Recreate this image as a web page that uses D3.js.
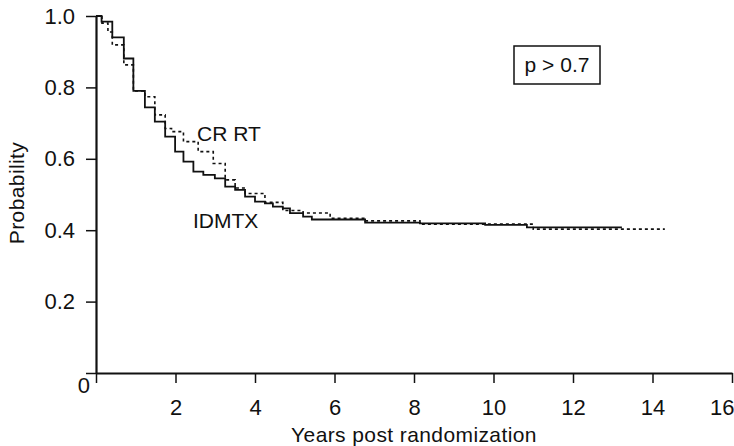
<!DOCTYPE html>
<html>
<head>
    <title>Survival</title>
    <script src="https://cdnjs.cloudflare.com/ajax/libs/d3/7.8.5/d3.min.js"></script>
    <style>
        body {
            margin: 0;
            background: white;
            font-family: "Liberation Sans", Arial, sans-serif;
        }
        .tick-label {
            font-size: 22px;
            fill: #111;
        }
        .axis-title {
            font-size: 21px;
            letter-spacing: 0.4px;
            fill: #111;
        }
        .curve-label {
            font-size: 21px;
            fill: #111;
        }
    </style>
</head>
<body>
    <div id="chart"></div>
    <script>
        // IDMTX arm (solid step curve): time in years, survival probability
        const idmtxTimes = [0, 0.14, 0.41, 0.70, 0.94, 1.23, 1.48, 1.74, 1.99, 2.20, 2.45, 2.70, 2.99, 3.25, 3.50, 3.75,
            4.00, 4.25, 4.45, 4.70, 4.88, 5.21, 5.43, 6.77, 8.15, 9.79, 10.84, 13.23];
        const idmtxProb = [1.0, 0.984, 0.940, 0.881, 0.790, 0.744, 0.704, 0.662, 0.620, 0.592, 0.564, 0.555, 0.545, 0.522, 0.513, 0.494,
            0.480, 0.475, 0.466, 0.461, 0.448, 0.438, 0.430, 0.421, 0.419, 0.415, 0.408, 0.408];

        // CR RT arm (dashed step curve)
        const crrtTimes = [0, 0.15, 0.30, 0.41, 0.70, 0.94, 1.23, 1.48, 1.74, 1.90, 2.20, 2.57, 2.95, 3.25, 3.50, 3.75,
            4.25, 4.70, 5.21, 5.89, 6.77, 8.15, 11.0, 14.31];
        const crrtProb = [1.0, 0.98, 0.955, 0.919, 0.863, 0.79, 0.774, 0.723, 0.685, 0.676, 0.648, 0.620, 0.587, 0.541, 0.518, 0.503,
            0.478, 0.455, 0.448, 0.433, 0.426, 0.417, 0.403, 0.403];

        const xTicks = [0, 2, 4, 6, 8, 10, 12, 14, 16];
        const yTicks = [0, 0.2, 0.4, 0.6, 0.8, 1.0];

        const W = 734, H = 446;

        const svg = d3.select("#chart")
            .append("svg")
            .attr("width", W)
            .attr("height", H);

        const x = d3.scaleLinear().domain([0, 16]).range([96, 732]);
        const y = d3.scaleLinear().domain([0, 1]).range([373, 16]);

        // x axis
        const xAxis = svg.append("g")
            .attr("transform", `translate(0,${y(0)})`)
            .call(d3.axisBottom(x).tickValues(xTicks).tickSize(10).tickSizeOuter(0)
                .tickFormat(d => d === 0 ? "" : d));
        xAxis.select(".domain").attr("stroke", "#111").attr("stroke-width", 2.2);
        xAxis.selectAll(".tick line").attr("stroke", "#111").attr("stroke-width", 1.5);
        xAxis.selectAll(".tick text")
            .attr("class", "tick-label")
            .attr("y", 26)
            .attr("dy", "0.71em")
            .attr("font-size", null)
            .attr("font-family", null);
        // keep the last label inside the page
        xAxis.selectAll(".tick text")
            .filter(d => d === 16)
            .attr("text-anchor", "end")
            .attr("dx", 2);

        // y axis
        const yAxis = svg.append("g")
            .attr("transform", `translate(${x(0)},0)`)
            .call(d3.axisLeft(y).tickValues(yTicks).tickSize(10).tickSizeOuter(0)
                .tickFormat(d => d === 0 ? "" : d3.format(".1f")(d)));
        yAxis.select(".domain").attr("stroke", "#111").attr("stroke-width", 2.2);
        yAxis.selectAll(".tick line").attr("stroke", "#111").attr("stroke-width", 1.5);
        yAxis.selectAll(".tick text")
            .attr("class", "tick-label")
            .attr("x", -21)
            .attr("font-size", null)
            .attr("font-family", null);

        // the lone "0" at the corner
        svg.append("text")
            .attr("class", "tick-label")
            .attr("x", x(0) - 6)
            .attr("y", y(0) + 20)
            .attr("text-anchor", "end")
            .text("0");

        const line = d3.line()
            .x(d => x(d[0]))
            .y(d => y(d[1]))
            .curve(d3.curveStepAfter);

        svg.append("path")
            .datum(crrtTimes.map((t, i) => [t, crrtProb[i]]))
            .attr("d", line)
            .attr("fill", "none")
            .attr("stroke", "#111")
            .attr("stroke-width", 1.6)
            .attr("stroke-dasharray", "3,3");

        svg.append("path")
            .datum(idmtxTimes.map((t, i) => [t, idmtxProb[i]]))
            .attr("d", line)
            .attr("fill", "none")
            .attr("stroke", "#111")
            .attr("stroke-width", 1.8);

        // curve labels
        svg.append("text")
            .attr("class", "curve-label")
            .attr("x", 197)
            .attr("y", 141)
            .text("CR RT");

        svg.append("text")
            .attr("class", "curve-label")
            .attr("x", 193)
            .attr("y", 228)
            .text("IDMTX");

        // p-value box
        svg.append("rect")
            .attr("x", 514)
            .attr("y", 46)
            .attr("width", 86)
            .attr("height", 38)
            .attr("fill", "none")
            .attr("stroke", "#111")
            .attr("stroke-width", 1.5);

        svg.append("text")
            .attr("class", "curve-label")
            .attr("x", 557)
            .attr("y", 72)
            .attr("text-anchor", "middle")
            .text("p > 0.7");

        // axis titles
        svg.append("text")
            .attr("class", "axis-title")
            .attr("x", 414)
            .attr("y", 442)
            .attr("text-anchor", "middle")
            .text("Years post randomization");

        svg.append("text")
            .attr("class", "axis-title")
            .attr("transform", `translate(24,${193}) rotate(-90)`)
            .attr("text-anchor", "middle")
            .text("Probability");
    </script>
</body>
</html>
